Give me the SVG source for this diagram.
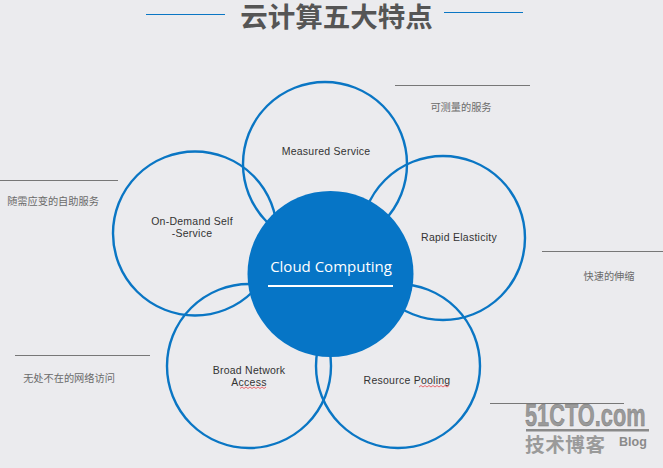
<svg xmlns="http://www.w3.org/2000/svg" width="663" height="468" viewBox="0 0 663 468">
<style>
.ring{fill:none;stroke:#0a76c4;stroke-width:2.4}
.lbl{font:10.500px "Liberation Sans",Arial,sans-serif;fill:#333;text-anchor:middle;letter-spacing:.25px}
.cn{font:10.200px "Noto Sans CJK SC",sans-serif;fill:#6a6a6a;text-anchor:middle}
.rule{stroke:#777;stroke-width:1}
.blue{stroke:#0a76c4;stroke-width:1.2}
.sq{fill:none;stroke:#e8474c;stroke-width:.8}
.wm{font-family:"Liberation Sans",sans-serif;font-weight:700;fill:#9a9a9a;stroke:#777;stroke-width:.5}
</style>
<rect width="663" height="468" fill="#ebebee"/>
<g id="title">
<text x="336.500" y="27" font-family="'Noto Sans CJK SC',sans-serif" font-size="27.500" font-weight="700" fill="#555" text-anchor="middle">云计算五大特点</text>
<line class="blue" x1="146" y1="14.500" x2="225" y2="14.500"/>
<line class="blue" x1="444" y1="12.500" x2="523" y2="12.500"/>
</g>
<g id="connectors">
<line class="rule" x1="395" y1="85.500" x2="530" y2="85.500"/>
<line class="rule" x1="0" y1="180.500" x2="118" y2="180.500"/>
<line class="rule" x1="542" y1="251.500" x2="663" y2="251.500"/>
<line class="rule" x1="15" y1="355.500" x2="150" y2="355.500"/>
<line class="rule" x1="490" y1="403.500" x2="624" y2="403.500"/>
</g>
<g id="measured"><circle class="ring" cx="325" cy="164" r="82"/><text class="lbl" x="326" y="155">Measured Service</text><text class="cn" x="461" y="111">可测量的服务</text></g>
<g id="rapid"><circle class="ring" cx="443" cy="238" r="82"/><text class="lbl" x="459" y="241">Rapid Elasticity</text><text class="cn" x="609" y="280">快速的伸缩</text></g>
<g id="ondemand"><circle class="ring" cx="195" cy="233.500" r="82"/><text class="lbl" x="192" y="225">On-Demand Self</text><text class="lbl" x="192" y="237">-Service</text><text class="cn" x="53" y="205">随需应变的自助服务</text></g>
<g id="broad"><circle class="ring" cx="249" cy="366" r="82"/><text class="lbl" x="249" y="374">Broad Network</text><text class="lbl" x="249" y="386">Access</text><path class="sq" d="M240 388.500l2-1.500 2 1.500 2-1.500 2 1.500 2-1.500 2 1.500 2-1.500 2 1.500 2-1.500 2 1.500 2-1.500 2 1.500 2-1.500"/><text class="cn" x="69" y="382">无处不在的网络访问</text></g>
<g id="pooling"><circle class="ring" cx="398" cy="366" r="82"/><text class="lbl" x="407" y="384">Resource Pooling</text><path class="sq" d="M419 387l2-1.500 2 1.500 2-1.500 2 1.500 2-1.500 2 1.500 2-1.500 2 1.500 2-1.500 2 1.500 2-1.500 2 1.500 2-1.500 2 1.500 2-1.500"/></g>
<g id="center"><circle cx="330.500" cy="274" r="83" fill="#0675c6"/><text x="331" y="272" font-family="'Open Sans','Noto Sans',sans-serif" font-size="15" fill="#fff" text-anchor="middle">Cloud Computing</text><line x1="268" y1="286" x2="393" y2="286" stroke="#fff" stroke-width="2"/></g>
<g id="watermark">
<text class="wm" transform="translate(525 426) scale(.68 1)" font-size="32">51CTO.com</text>
<rect x="526" y="429" width="123" height="2.500" fill="#8a8a8a"/>
<text x="525" y="452" font-family="'Noto Sans CJK SC',sans-serif" font-size="19.500" font-weight="700" fill="#9a9a9a" textLength="80">技术博客</text>
<text x="619" y="446" font-family="'Liberation Sans',sans-serif" font-size="12.500" font-weight="700" fill="#8a8a8a">Blog</text>
</g>
</svg>
